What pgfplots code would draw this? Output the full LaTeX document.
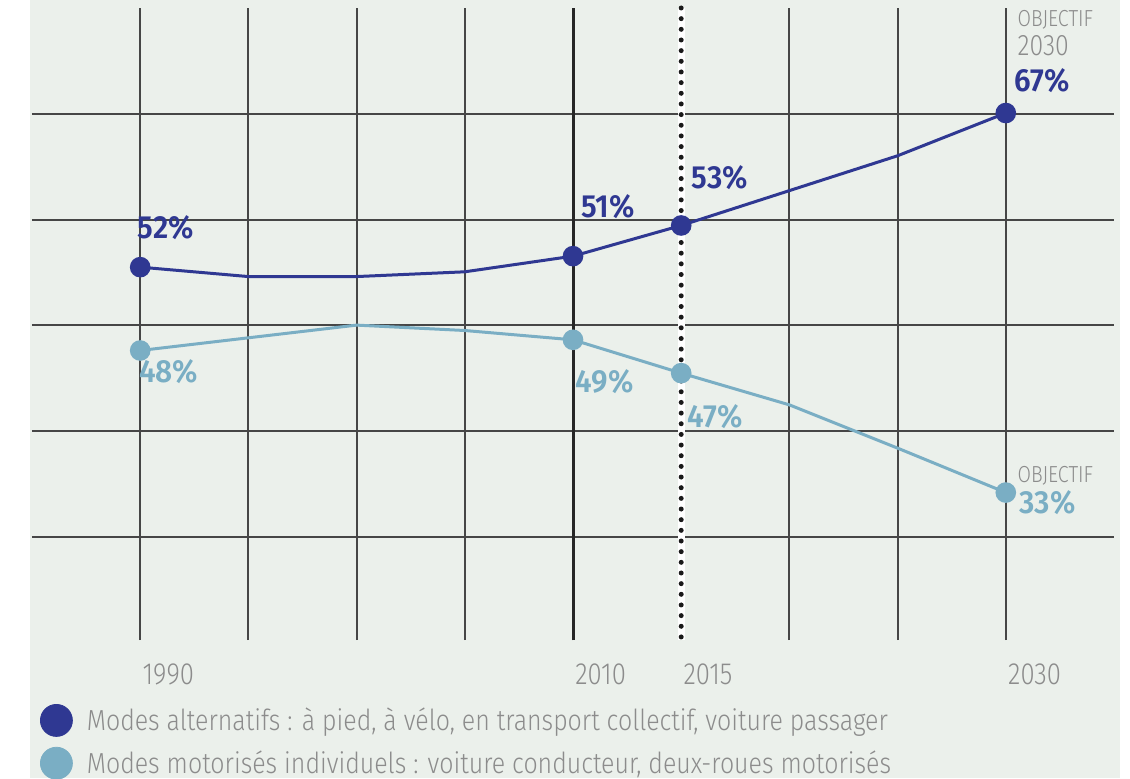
\documentclass[border=0pt]{standalone}
\usepackage{pgfplots}
\pgfplotsset{compat=1.18}
\usepackage{fontspec}
\newfontfamily\lt{Fira Sans Light}[FakeStretch=0.84]
\newfontfamily\legfont{Fira Sans Light}[FakeStretch=0.86]
\newfontfamily\bd{Fira Sans SemiBold}[FakeStretch=0.93]
\definecolor{bgc}{RGB}{235,240,235}
\definecolor{gridc}{RGB}{70,70,70}
\definecolor{darkb}{RGB}{47,56,146}
\definecolor{lightb}{RGB}{122,174,196}
\definecolor{graytext}{RGB}{140,140,140}

\begin{document}
\begin{tikzpicture}
\useasboundingbox (0,0) rectangle (565pt,389pt);
\fill[bgc] (15pt,0) rectangle (560pt,389pt);
\begin{axis}[
    at={(16pt,69pt)}, anchor=south west,
    scale only axis, width=541pt, height=316pt,
    xmin=1985, xmax=2035, ymin=20.25, ymax=80,
    xtick={1990,1995,...,2030},
    xticklabels={1990,,,,2010,2015,,,2030},
    ytick={30,40,50,60,70}, yticklabels={},
    xmajorgrids, ymajorgrids,
    grid style={gridc, line width=1pt},
    axis line style={draw=none},
    major tick length=0pt,
    xticklabel style={font=\lt\fontsize{15.3}{17}\selectfont, text=graytext,
        anchor=west, inner sep=0pt, xshift=1pt, yshift=-17pt},
    clip=false,
    legend cell align=left,
    legend style={at={(axis description cs:0.0074,-0.1013)}, anchor=north west,
        draw=none, fill=none, inner sep=0pt, outer sep=0pt,
        row sep=5pt, column sep=7pt, nodes={inner sep=0pt},
        font=\legfont\fontsize{14.5}{16}\selectfont\color{graytext}},
]
% special vertical lines
\draw[line width=1.5pt, black!85] (axis cs:2010,20.25) -- (axis cs:2010,80);
\draw[white, line width=3.4pt] (axis cs:2015,20.25) -- (axis cs:2015,80);
\draw[black!90, line width=2.5pt, line cap=round, dash pattern=on 0pt off 5.33pt]
    (axis cs:2015,80) -- (axis cs:2015,20.25);

% modes alternatifs
\addplot[darkb, line width=1.5pt, mark=*, mark size=4.4pt, mark indices={1,5,6,8}, forget plot]
coordinates {(1990,55.50) (1995,54.61) (2000,54.61) (2005,55.06) (2010,56.54)
             (2015,59.44) (2025,66.03) (2030,70.07)};
% modes motorises
\addplot[lightb, line width=1.5pt, mark=*, mark size=4.4pt, mark indices={1,4,5,8}, forget plot]
coordinates {(1990,47.62) (2000,50.02) (2005,49.51) (2010,48.63)
             (2015,45.48) (2020,42.48) (2025,38.39) (2030,34.19)};

\addlegendimage{legend image code/.code={\fill[darkb] (8pt,0pt) circle (8pt);}}
\addlegendentry{Modes alternatifs : à pied, à vélo, en transport collectif, voiture passager}
\addlegendimage{legend image code/.code={\fill[lightb] (8pt,0pt) circle (8pt);}}
\addlegendentry{Modes motorisés individuels : voiture conducteur, deux-roues motorisés}

% value labels
\tikzset{bl/.style={font=\bd\fontsize{16}{17}\selectfont, inner sep=0pt, anchor=center}}
\node[bl, darkb] at (axis cs:1991.18,59.27) {52\%};
\node[bl, darkb] at (axis cs:2011.62,61.21) {51\%};
\node[bl, darkb] at (axis cs:2016.79,63.95) {53\%};
\node[bl, darkb] at (axis cs:2031.68,73.17) {67\%};
\node[bl, lightb] at (axis cs:1991.31,45.65) {48\%};
\node[bl, lightb] at (axis cs:2011.46,44.66) {49\%};
\node[bl, lightb] at (axis cs:2016.56,41.35) {47\%};
\node[bl, lightb] at (axis cs:2031.93,33.26) {33\%};
\node[font=\lt\fontsize{11.6}{13}\selectfont, text=graytext, inner sep=0pt, anchor=west]
    at (axis cs:2030.53,78.84) {OBJECTIF};
\node[font=\lt\fontsize{14.8}{16}\selectfont, text=graytext, inner sep=0pt, anchor=west]
    at (axis cs:2030.53,76.48) {2030};
\node[font=\lt\fontsize{11.6}{13}\selectfont, text=graytext, inner sep=0pt, anchor=west]
    at (axis cs:2030.53,35.82) {OBJECTIF};
\end{axis}
\end{tikzpicture}
\end{document}
